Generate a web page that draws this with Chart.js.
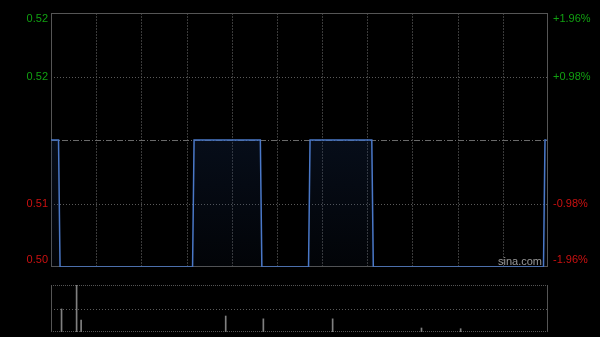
<!DOCTYPE html>
<html>
<head>
<meta charset="utf-8">
<script src="https://cdn.jsdelivr.net/npm/chart.js@4.4.1/dist/chart.umd.min.js"></script>
<style>
  html, body { margin: 0; padding: 0; background: #000; }
  #wrap { position: relative; width: 600px; height: 337px; overflow: hidden; }
  #priceBox { position: absolute; left: 0; top: 0; width: 600px; height: 280px; }
  #volBox { position: absolute; left: 0; top: 280px; width: 600px; height: 57px; }
  #mark { position: absolute; left: 498px; top: 255px; font: 11px "Liberation Sans", Arial, sans-serif; color: #9a9a9a; }
</style>
</head>
<body>
<div id="wrap">
  <div id="priceBox"><canvas id="priceChart" width="600" height="280"></canvas></div>
  <div id="volBox"><canvas id="volChart" width="600" height="57"></canvas></div>
  <div id="mark">sina.com</div>
</div>
<script>
// price line: minute index (0..330, HK session) and price at the turning points
let minutes = [0, 5, 6, 94, 95, 139, 140, 171, 172, 213, 214, 327, 328, 329]
let prices = [0.51, 0.51, 0.50, 0.50, 0.51, 0.51, 0.50, 0.50, 0.51, 0.51, 0.50, 0.50, 0.51, 0.51]

// volume spikes
let volMinutes = [7, 17, 20, 116, 141, 187, 246, 272]
let volValues = [98000, 200000, 51000, 68000, 56000, 56000, 17000, 14000]

// axis
let prevClose = 0.51
let tickValues = [0.50, 0.505, 0.51, 0.515, 0.52]
let leftLabels = ['0.50', '0.51', '', '0.52', '0.52']
let rightLabels = ['-1.96%', '-0.98%', '', '+0.98%', '+1.96%']
let sessionMinutes = 330
let gridEvery = 30

const FONT = '"Liberation Sans", Arial, sans-serif'
const GREEN = '#11a011'
const RED = '#cc1111'

function tickColor(ctx) {
  let v = tickValues[ctx.index]
  return v > prevClose ? GREEN : RED
}

// draws the frame, dotted grid and the prev-close line from the scales
const gridPlugin = {
  id: 'sinaGrid',
  beforeDatasetsDraw(chart, args, opts) {
    let c = chart.ctx
    let a = chart.chartArea
    let xs = chart.scales.x
    let ys = chart.scales.y
    c.save()
    c.lineWidth = 1
    // vertical grid
    if (opts.vertical) {
      c.strokeStyle = '#3a3a3a'
      c.setLineDash([2, 1])
      for (let m = gridEvery; m < sessionMinutes; m += gridEvery) {
        let x = Math.round(xs.getPixelForValue(m)) + 0.5
        c.beginPath(); c.moveTo(x, a.top); c.lineTo(x, a.bottom); c.stroke()
      }
    }
    // horizontal grid
    c.strokeStyle = '#5a5a5a'
    c.setLineDash([1, 2])
    opts.hLines.forEach(v => {
      let y = Math.round(ys.getPixelForValue(v)) + 0.5
      c.beginPath(); c.moveTo(a.left, y); c.lineTo(a.right, y); c.stroke()
    })
    // prev close
    if (opts.prevClose != null) {
      c.strokeStyle = '#6a6a6a'
      c.setLineDash([6, 2, 1, 2])
      let y = Math.round(ys.getPixelForValue(opts.prevClose)) + 0.5
      c.beginPath(); c.moveTo(a.left, y); c.lineTo(a.right, y); c.stroke()
    }
    // frame
    c.setLineDash(opts.frameDash || [])
    c.strokeStyle = '#555'
    if (opts.frameDash) {
      c.beginPath()
      c.moveTo(a.left, a.top + 0.5); c.lineTo(a.right, a.top + 0.5)
      c.moveTo(a.left, a.bottom - 0.5); c.lineTo(a.right, a.bottom - 0.5)
      c.stroke()
      c.setLineDash([])
      c.beginPath()
      c.moveTo(a.left + 0.5, a.top); c.lineTo(a.left + 0.5, a.bottom)
      c.moveTo(a.right - 0.5, a.top); c.lineTo(a.right - 0.5, a.bottom)
      c.stroke()
    } else {
      c.strokeRect(a.left + 0.5, a.top + 0.5, a.right - a.left - 1, a.bottom - a.top - 1)
    }
    c.restore()
  }
}

let priceCtx = document.getElementById('priceChart').getContext('2d')
let priceData = minutes.map((m, i) => ({ x: m, y: prices[i] }))

// keep end labels inside the plot, like the original
function placeTicks(scale) {
  let span = tickValues[tickValues.length - 1] - tickValues[0]
  scale.ticks = tickValues.map((v, i) => {
    let val = v
    if (i == 0) val = v + span * 0.028
    if (i == tickValues.length - 1) val = v - span * 0.024
    return { value: val }
  })
}

let priceChart = new Chart(priceCtx, {
  type: 'line',
  data: {
    datasets: [{
      data: priceData,
      borderColor: '#4a78c8',
      borderWidth: 1.5,
      pointRadius: 0,
      tension: 0,
      fill: 'start',
      backgroundColor: function (ctx) {
        let a = ctx.chart.chartArea
        if (!a) return 'rgba(20,40,80,0.3)'
        let g = ctx.chart.ctx.createLinearGradient(0, a.top, 0, a.bottom)
        g.addColorStop(0, 'rgba(25,50,95,0.45)')
        g.addColorStop(1, 'rgba(25,50,95,0.08)')
        return g
      }
    }]
  },
  options: {
    responsive: false,
    animation: false,
    layout: { padding: { top: 13, bottom: 13, left: 0, right: 0 } },
    plugins: {
      legend: { display: false },
      tooltip: { enabled: false },
      sinaGrid: { vertical: true, hLines: [0.505, 0.515], prevClose: prevClose }
    },
    scales: {
      x: { type: 'linear', min: 0, max: sessionMinutes, display: false },
      y: {
        position: 'left', min: 0.50, max: 0.52,
        afterFit: s => { s.width = 51 },
        afterBuildTicks: placeTicks,
        grid: { display: false, drawTicks: false },
        border: { display: false },
        ticks: {
          padding: 3,
          font: { family: FONT, size: 11 },
          color: tickColor,
          callback: (v, i) => leftLabels[i]
        }
      },
      y2: {
        position: 'right', min: 0.50, max: 0.52,
        afterFit: s => { s.width = 52 },
        afterBuildTicks: placeTicks,
        grid: { display: false, drawTicks: false },
        border: { display: false },
        ticks: {
          padding: 5,
          font: { family: FONT, size: 11 },
          color: tickColor,
          callback: (v, i) => rightLabels[i]
        }
      }
    }
  },
  plugins: [gridPlugin]
})

let volCtx = document.getElementById('volChart').getContext('2d')
let volMax = Math.max(...volValues)
let volChart = new Chart(volCtx, {
  type: 'bar',
  data: {
    datasets: [{
      data: volMinutes.map((m, i) => ({ x: m, y: volValues[i] })),
      backgroundColor: '#808080',
      barThickness: 1,
      borderWidth: 0
    }]
  },
  options: {
    responsive: false,
    animation: false,
    layout: { padding: { top: 5, bottom: 5, left: 51, right: 52 } },
    plugins: {
      legend: { display: false },
      tooltip: { enabled: false },
      sinaGrid: { vertical: false, hLines: [volMax / 2], frameDash: [1, 1] }
    },
    scales: {
      x: { type: 'linear', min: 0, max: sessionMinutes, display: false, offset: false },
      y: { min: 0, max: volMax, display: false }
    }
  },
  plugins: [gridPlugin]
})
</script>
</body>
</html>
